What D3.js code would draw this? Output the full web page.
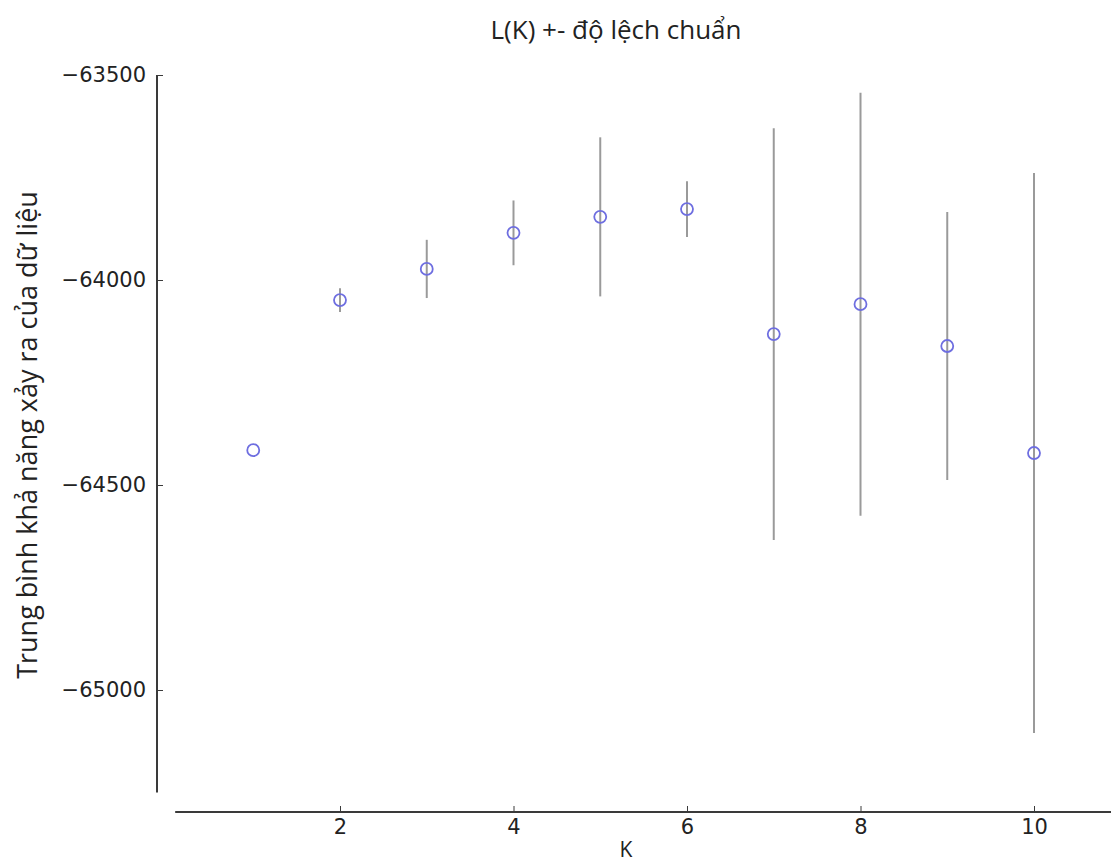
<!DOCTYPE html>
<html>
<head>
<meta charset="utf-8">
<script src="https://cdn.jsdelivr.net/npm/d3@7"></script>
<style>
  html, body { margin: 0; padding: 0; background: #fff; }
  svg { display: block; }
</style>
</head>
<body>
<svg id="chart" width="1111" height="864"></svg>
<script>
// ---- data ----
const kValues = [1, 2, 3, 4, 5, 6, 7, 8, 9, 10];
const meanLK = [-64415, -64049, -63973, -63885, -63846, -63827, -64132, -64059, -64161, -64422];
const stdLK  = [0, 29, 71, 79, 194, 68, 502, 516, 327, 683];
const xTicks = [2, 4, 6, 8, 10];
const yTicks = [-63500, -64000, -64500, -65000];
const titleText = "L(K) +- độ lệch chuẩn";
const xLabel = "K";
const yLabel = "Trung bình khả năng xảy ra của dữ liệu";

const svg = d3.select("#chart");

// scales
const x = d3.scaleLinear().domain([2, 10]).range([340, 1034]);
const y = d3.scaleLinear().domain([-63500, -65000]).range([75, 690]);

const axisColor = "#3a3a3a";
const tickFont = "'DejaVu Sans', sans-serif";
const labelFont = "'Open Sans', 'Noto Sans', sans-serif";
const minus = s => String(s).replace("-", "\u2212");

// y axis (offset spine)
const yAxisX = 157;
const yAxis = d3.axisLeft(y).tickValues(yTicks).tickSizeInner(-6).tickSizeOuter(0)
  .tickPadding(12).tickFormat(d => minus(d));
const gy = svg.append("g").attr("transform", `translate(${yAxisX},0)`).call(yAxis);
gy.select(".domain").remove();
gy.append("line").attr("x1", 0).attr("x2", 0)
  .attr("y1", y(-63500)).attr("y2", y(-65250))
  .attr("stroke", axisColor).attr("stroke-width", 2);
gy.selectAll(".tick line").attr("stroke", axisColor).attr("stroke-width", 1);
gy.selectAll(".tick text").attr("font-family", tickFont).attr("font-size", 21)
  .attr("fill", "#222").attr("x", -11);

// x axis (offset spine)
const xAxisY = 812;
const xAxis = d3.axisBottom(x).tickValues(xTicks).tickSizeInner(-6).tickSizeOuter(0)
  .tickPadding(8).tickFormat(d3.format("d"));
const gx = svg.append("g").attr("transform", `translate(0,${xAxisY})`).call(xAxis);
gx.select(".domain").remove();
gx.append("line").attr("x1", x(0.1)).attr("x2", x(11))
  .attr("y1", 0).attr("y2", 0)
  .attr("stroke", axisColor).attr("stroke-width", 2);
gx.selectAll(".tick line").attr("stroke", axisColor).attr("stroke-width", 1);
gx.selectAll(".tick text").attr("font-family", tickFont).attr("font-size", 21)
  .attr("fill", "#222").attr("y", 7);

// error bars
const data = kValues.map((k, i) => ({ k, m: meanLK[i], s: stdLK[i] }));
svg.append("g").selectAll("line").data(data.filter(d => d.s > 0)).join("line")
  .attr("x1", d => x(d.k)).attr("x2", d => x(d.k))
  .attr("y1", d => y(d.m + d.s)).attr("y2", d => y(d.m - d.s))
  .attr("stroke", "#9a9a9a").attr("stroke-width", 2);

// markers
svg.append("g").selectAll("circle").data(data).join("circle")
  .attr("cx", d => x(d.k)).attr("cy", d => y(d.m)).attr("r", 6)
  .attr("fill", "none").attr("stroke", "#6e6ee0").attr("stroke-width", 1.8);

// title and labels
svg.append("text").attr("x", 616).attr("y", 39).attr("text-anchor", "middle")
  .attr("font-family", labelFont).attr("font-size", 26).attr("fill", "#222")
  .text(titleText);
svg.append("text").attr("x", 626).attr("y", 857).attr("text-anchor", "middle")
  .attr("font-family", labelFont).attr("font-size", 21).attr("fill", "#222")
  .text(xLabel);
svg.append("text").attr("transform", "translate(37,435) rotate(-90)")
  .attr("text-anchor", "middle")
  .attr("font-family", labelFont).attr("font-size", 27).attr("fill", "#222")
  .text(yLabel);
</script>
</body>
</html>
